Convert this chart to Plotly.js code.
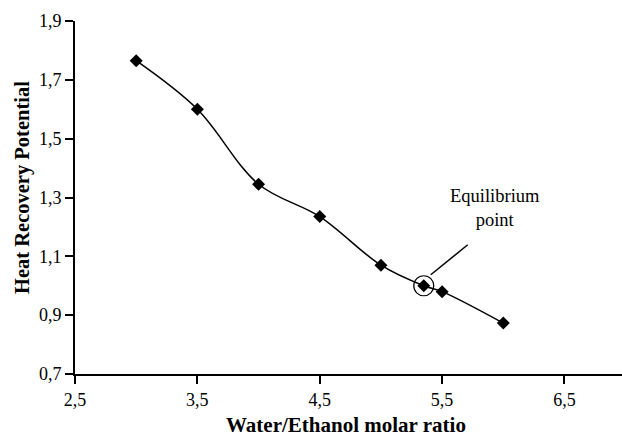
<!DOCTYPE html>
<html>
<head>
<meta charset="utf-8">
<script src="https://cdn.plot.ly/plotly-3.0.1.min.js"></script>
<style>html,body{margin:0;padding:0;background:#fff;}#chart{width:622px;height:436px;}</style>
</head>
<body>
<div id="chart"></div>
<script>
// Data
const molarRatio = [3.0, 3.5, 4.0, 4.5, 5.0, 5.35, 5.5, 6.0];
const heatRecovery = [1.765, 1.60, 1.345, 1.235, 1.07, 1.0, 0.98, 0.873];
const xTicks = [2.5, 3.5, 4.5, 5.5, 6.5];
const yTicks = [0.7, 0.9, 1.1, 1.3, 1.5, 1.7, 1.9];
const eqX = 5.35, eqY = 1.0;
const eqLabel = "Equilibrium<br>point";
const xTitle = "Water/Ethanol molar ratio";
const yTitle = "Heat Recovery Potential";

const serif = "'Liberation Serif'";

const trace = {
  x: molarRatio, y: heatRecovery,
  mode: "lines+markers", type: "scatter",
  line: {color: "#000", width: 1.5, shape: "spline", smoothing: 1},
  marker: {symbol: "diamond", size: 10, color: "#000"},
  hoverinfo: "skip"
};

const layout = {
  width: 622, height: 436,
  margin: {l: 75, r: 0, t: 21, b: 62},
  paper_bgcolor: "#fff", plot_bgcolor: "#fff",
  separators: ",.",
  showlegend: false,
  font: {family: serif, color: "#000", size: 18},
  xaxis: {
    range: [2.5, 6.97], tickvals: xTicks, tickformat: ".1f",
    showgrid: false, zeroline: false,
    showline: true, linecolor: "#000", linewidth: 2,
    ticks: "outside", ticklen: 8, tickwidth: 2, tickcolor: "#000",
    tickfont: {family: serif, size: 18, color: "#000"}
  },
  yaxis: {
    range: [0.7, 1.9], tickvals: yTicks, tickformat: ".1f",
    showgrid: false, zeroline: false,
    showline: true, linecolor: "#000", linewidth: 2,
    ticks: "outside", ticklen: 8, tickwidth: 2, tickcolor: "#000",
    tickfont: {family: serif, size: 18, color: "#000"}
  },
  shapes: [
    {type: "circle", xref: "x", yref: "y", xsizemode: "pixel", ysizemode: "pixel",
     xanchor: eqX, yanchor: eqY, x0: -10, x1: 10, y0: -10, y1: 10,
     line: {color: "#000", width: 1.2}},
    {type: "line", xref: "x", yref: "y", xsizemode: "pixel", ysizemode: "pixel",
     xanchor: eqX, yanchor: eqY, x0: 7, y0: 11, x1: 44, y1: 41,
     line: {color: "#000", width: 1.5}}
  ],
  annotations: [
    {x: 5.93, y: 1.263, xref: "x", yref: "y", text: eqLabel, showarrow: false,
     font: {family: serif, size: 18.5, color: "#000"}, align: "center"},
    {x: (345.5 - 75) / 547, y: (374 - 425) / 353, xref: "paper", yref: "paper", text: "<b>" + xTitle + "</b>",
     showarrow: false, xanchor: "center", yanchor: "middle",
     font: {family: serif, size: 21, color: "#000"}},
    {x: (22 - 75) / 547, y: (374 - 188) / 353, xref: "paper", yref: "paper", text: "<b>" + yTitle + "</b>",
     showarrow: false, xanchor: "center", yanchor: "middle", textangle: -90,
     font: {family: serif, size: 20.5, color: "#000"}}
  ]
};

Plotly.newPlot("chart", [trace], layout, {displayModeBar: false, staticPlot: true});
</script>
</body>
</html>
